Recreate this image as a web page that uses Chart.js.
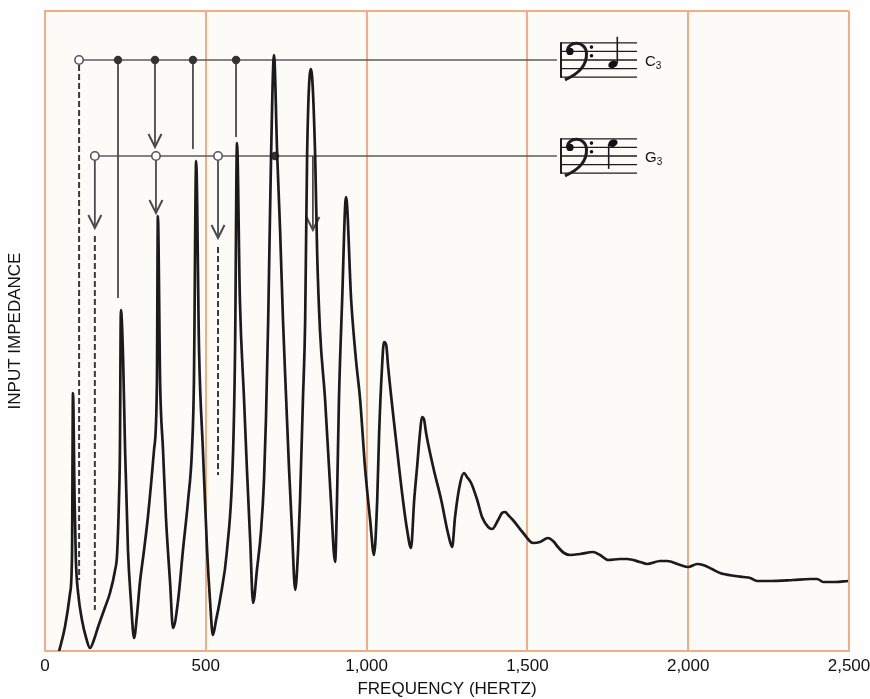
<!DOCTYPE html>
<html>
<head>
<meta charset="utf-8">
<script src="https://cdn.jsdelivr.net/npm/chart.js@4.4.1/dist/chart.umd.min.js"></script>
<style>
  html, body { margin: 0; padding: 0; background: #fff; }
  #wrap { width: 870px; height: 699px; }
</style>
</head>
<body>
<div id="wrap"><canvas id="impedanceChart" width="870" height="699"></canvas></div>
<script>
// input impedance curve (Hz / relative units)
const freqHz = [
  44, 62, 78, 84, 87, 92, 96, 103, 115, 128,
  140, 152, 165, 187, 202, 218, 224, 230, 233, 236,
  243, 249, 258, 267, 277, 286, 295, 308, 320, 339,
  348, 351, 358, 367, 376, 389, 398, 414, 429, 445,
  457, 463, 470, 479, 491, 504, 513, 522, 532, 544,
  566, 585, 591, 597, 606, 619, 628, 638, 647, 659,
  672, 681, 687, 694, 703, 712, 722, 731, 740, 750,
  759, 768, 778, 787, 793, 802, 809, 815, 827, 840,
  846, 855, 871, 889, 902, 908, 914, 924, 936, 952,
  967, 980, 995, 1011, 1023, 1033, 1039, 1048, 1054, 1061,
  1067, 1089, 1113, 1126, 1138, 1148, 1157, 1166, 1172, 1179,
  1185, 1207, 1232, 1253, 1266, 1275, 1291, 1303, 1312, 1325,
  1344, 1359, 1378, 1390, 1409, 1421, 1431, 1440, 1455, 1487,
  1518, 1539, 1564, 1580, 1595, 1614, 1633, 1664, 1704, 1726,
  1751, 1788, 1810, 1850, 1872, 1913, 1934, 1975, 2000, 2028,
  2046, 2074, 2099, 2146, 2171, 2193, 2214, 2255, 2326, 2379,
  2401, 2420, 2457, 2497
];
const impedance = [
  0, 24, 58, 96, 258, 151, 91, 58, 31, 13,
  3, 11, 24, 44, 58, 81, 96, 151, 201, 341,
  291, 201, 101, 51, 13, 36, 68, 101, 134, 201,
  268, 435, 268, 201, 134, 68, 23, 51, 101, 151,
  201, 268, 490, 301, 201, 101, 51, 16, 31, 51,
  101, 201, 301, 508, 351, 251, 181, 111, 48, 81,
  121, 171, 231, 331, 496, 596, 496, 421, 331, 251,
  181, 121, 61, 101, 151, 251, 331, 496, 582, 496,
  401, 321, 251, 151, 89, 151, 251, 351, 454, 351,
  291, 251, 184, 131, 96, 151, 218, 284, 309, 306,
  284, 218, 151, 121, 103, 151, 184, 218, 234, 231,
  218, 184, 151, 118, 104, 134, 168, 178, 174, 168,
  151, 134, 124, 122, 131, 138, 139, 136, 131, 118,
  108, 109, 113, 110, 104, 98, 96, 97, 99, 96,
  91, 92, 92, 89, 87, 90, 90, 86, 84, 87,
  86, 82, 78, 75, 74, 73, 70, 70, 71, 72,
  72, 69, 69, 70
];
const xTicks = [0, 500, 1000, 1500, 2000, 2500];

// note lines (C3 and G3) and their harmonic markers
const noteNames = ['C', 'G'];
const noteLevels = [591, 495];
const noteStarts = [106, 155];
const noteLineEnd = 1592;
const openMarks = [[106], [155, 345, 538]];
const dotMarks = [[227, 342, 460, 594], [715]];

// drop lines from the note lines: frequency, from, to, kind
const dropFreq = [106, 227, 342, 460, 594, 155, 155, 345, 538, 538, 833];
const dropFrom = [586, 591, 591, 591, 591, 495, 415, 495, 495, 404, 495];
const dropTo   = [71, 353, 504, 502, 514, 423, 41, 438, 413, 176, 421];
const dropKind = ['dash', 'solid', 'arrow', 'solid', 'solid', 'arrow', 'dash', 'arrow', 'arrow', 'dash', 'arrow'];

const gridColor = '#f1ad84';
const fontFamily = '"Liberation Sans", Arial, Helvetica, sans-serif';

function drawStaff(ctx, x0, yMid, noteIdx) {
  const s = 8.6, w = 76;
  const top = yMid - 2 * s;
  ctx.save();
  ctx.strokeStyle = '#1c1c1c';
  ctx.fillStyle = '#111';
  ctx.lineWidth = 1.3;
  for (let i = 0; i < 5; i++) {
    ctx.beginPath();
    ctx.moveTo(x0, top + i * s);
    ctx.lineTo(x0 + w, top + i * s);
    ctx.stroke();
  }
  ctx.lineWidth = 2;
  ctx.beginPath();
  ctx.moveTo(x0, top - 0.6);
  ctx.lineTo(x0, top + 4 * s + 0.6);
  ctx.stroke();

  // bass clef
  ctx.beginPath();
  ctx.arc(x0 + 9, top + s, 3.6, 0, Math.PI * 2);
  ctx.fill();
  ctx.lineWidth = 3;
  ctx.beginPath();
  ctx.moveTo(x0 + 6.5, top + s);
  ctx.bezierCurveTo(x0 + 6, top - 2, x0 + 25, top - 3, x0 + 25.5, top + s + 2);
  ctx.bezierCurveTo(x0 + 26, top + 2.7 * s, x0 + 16, top + 3.7 * s, x0 + 4, top + 4.3 * s);
  ctx.stroke();
  ctx.beginPath();
  ctx.arc(x0 + 30.5, top + 0.5 * s, 1.8, 0, Math.PI * 2);
  ctx.arc(x0 + 30.5, top + 1.5 * s, 1.8, 0, Math.PI * 2);
  ctx.fill();

  // note head + stem
  ctx.lineWidth = 1.6;
  if (noteIdx === 0) {
    const cy = top + 2.5 * s;
    ctx.beginPath();
    ctx.ellipse(x0 + 52, cy, 4.8, 3.6, -0.4, 0, Math.PI * 2);
    ctx.fill();
    ctx.beginPath();
    ctx.moveTo(x0 + 56.3, cy - 1);
    ctx.lineTo(x0 + 56.3, top - 6);
    ctx.stroke();
  } else {
    const cy = top + 0.5 * s;
    ctx.beginPath();
    ctx.ellipse(x0 + 52, cy, 4.8, 3.6, -0.4, 0, Math.PI * 2);
    ctx.fill();
    ctx.beginPath();
    ctx.moveTo(x0 + 47.7, cy + 1);
    ctx.lineTo(x0 + 47.7, top + 3.5 * s);
    ctx.stroke();
  }

  // label like C3 / G3
  ctx.fillStyle = '#111';
  ctx.textBaseline = 'alphabetic';
  ctx.font = '15px ' + fontFamily;
  const lx = x0 + 84, ly = yMid + 6;
  ctx.fillText(noteNames[noteIdx], lx, ly);
  const cw = ctx.measureText(noteNames[noteIdx]).width;
  ctx.font = '10px ' + fontFamily;
  ctx.fillText('3', lx + cw, ly + 3);
  ctx.restore();
}

const annotationPlugin = {
  id: 'harmonics',
  beforeDraw(chart) {
    const { ctx, chartArea: a } = chart;
    ctx.save();
    ctx.fillStyle = '#fdfbf8';
    ctx.fillRect(a.left, a.top, a.right - a.left, a.bottom - a.top);
    ctx.restore();
  },
  beforeDatasetsDraw(chart) {
    const { ctx } = chart;
    const xs = chart.scales.x, ys = chart.scales.y;
    ctx.save();
    ctx.lineCap = 'butt';

    // horizontal note lines
    ctx.strokeStyle = '#5b5b5b';
    ctx.lineWidth = 1.6;
    for (let n = 0; n < noteLevels.length; n++) {
      const y = ys.getPixelForValue(noteLevels[n]);
      ctx.beginPath();
      ctx.moveTo(xs.getPixelForValue(noteStarts[n]), y);
      ctx.lineTo(xs.getPixelForValue(noteLineEnd), y);
      ctx.stroke();
    }

    // drop lines
    for (let i = 0; i < dropFreq.length; i++) {
      const x = xs.getPixelForValue(dropFreq[i]);
      const y0 = ys.getPixelForValue(dropFrom[i]);
      const y1 = ys.getPixelForValue(dropTo[i]);
      ctx.strokeStyle = dropKind[i] === 'dash' ? '#3a3a3a' : '#4a4a4a';
      ctx.lineWidth = dropKind[i] === 'dash' ? 2 : 1.8;
      ctx.setLineDash(dropKind[i] === 'dash' ? [6, 3] : []);
      ctx.beginPath();
      ctx.moveTo(x, y0);
      ctx.lineTo(x, y1);
      ctx.stroke();
      ctx.setLineDash([]);
      if (dropKind[i] === 'arrow') {
        ctx.lineWidth = 2;
        ctx.beginPath();
        ctx.moveTo(x - 6.5, y1 - 13);
        ctx.lineTo(x, y1);
        ctx.lineTo(x + 6.5, y1 - 13);
        ctx.stroke();
      }
    }

    // markers
    for (let n = 0; n < noteLevels.length; n++) {
      const y = ys.getPixelForValue(noteLevels[n]);
      openMarks[n].forEach(f => {
        ctx.beginPath();
        ctx.arc(xs.getPixelForValue(f), y, 4.2, 0, Math.PI * 2);
        ctx.fillStyle = '#fff';
        ctx.fill();
        ctx.strokeStyle = '#555';
        ctx.lineWidth = 1.6;
        ctx.stroke();
      });
      dotMarks[n].forEach(f => {
        ctx.beginPath();
        ctx.arc(xs.getPixelForValue(f), y, 4.2, 0, Math.PI * 2);
        ctx.fillStyle = '#333';
        ctx.fill();
      });
      drawStaff(ctx, xs.getPixelForValue(noteLineEnd) + 4, y, n);
    }
    ctx.restore();
  }
};

new Chart(document.getElementById('impedanceChart'), {
  type: 'line',
  data: {
    datasets: [{
      data: freqHz.map((f, i) => ({ x: f, y: impedance[i] })),
      borderColor: '#1b1b1b',
      borderWidth: 2.7,
      pointRadius: 0,
      cubicInterpolationMode: 'monotone',
      fill: false
    }]
  },
  options: {
    responsive: false,
    animation: false,
    layout: { padding: { top: 11, right: 21, left: 0, bottom: 0 } },
    plugins: {
      legend: { display: false },
      tooltip: { enabled: false }
    },
    scales: {
      x: {
        type: 'linear',
        min: 0,
        max: 2500,
        afterBuildTicks: (s) => { s.ticks = xTicks.map(v => ({ value: v })); },
        afterFit: (s) => { s.height = 48; s.paddingRight = 0; s.paddingLeft = 0; },
        ticks: {
          padding: 5,
          color: '#111',
          font: { family: fontFamily, size: 17 },
          maxRotation: 0,
          callback: (v) => v.toLocaleString('en-US')
        },
        grid: { color: gridColor, lineWidth: 2, drawTicks: false },
        border: { color: gridColor, width: 2 },
        title: {
          display: true,
          text: 'FREQUENCY (HERTZ)',
          color: '#111',
          font: { family: fontFamily, size: 17, lineHeight: 1 },
          padding: { top: 0, bottom: 1 }
        }
      },
      y: {
        min: 0,
        max: 640,
        afterBuildTicks: (s) => { s.ticks = [{ value: 0 }, { value: 640 }]; },
        afterFit: (s) => { s.width = 45; },
        ticks: { display: false },
        grid: { color: gridColor, lineWidth: 2, drawTicks: false },
        border: { color: gridColor, width: 2 },
        title: {
          display: true,
          text: 'INPUT IMPEDANCE',
          color: '#111',
          font: { family: fontFamily, size: 17, lineHeight: 1.2 },
          padding: { top: 5, bottom: 0 }
        }
      }
    }
  },
  plugins: [annotationPlugin]
});
</script>
</body>
</html>
